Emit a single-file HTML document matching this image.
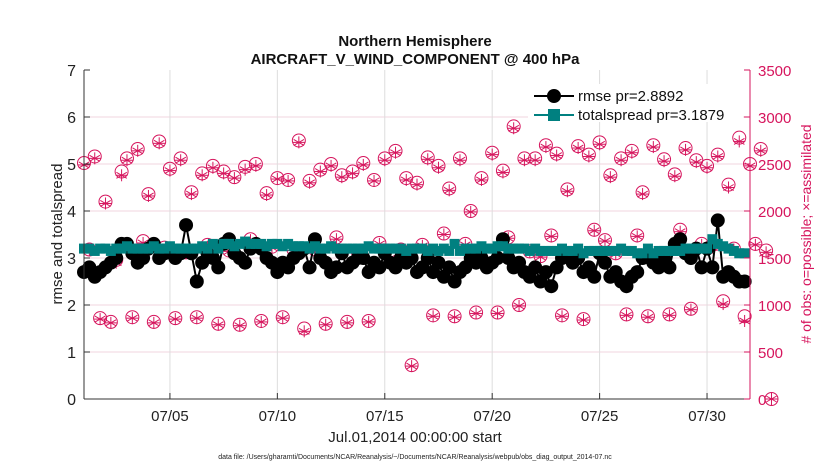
<!DOCTYPE html>
<html><head><meta charset="utf-8"><style>
body{margin:0;background:#fff;}
svg{display:block;font-family:"Liberation Sans",sans-serif;}
</style></head><body>
<svg id="chart" width="830" height="470" xmlns="http://www.w3.org/2000/svg">
<rect width="830" height="470" fill="#fff"/>
<g id="grid"></g>
<g id="obs"></g>
<g id="series"></g>
<g id="axes"></g>
<text x="415" y="46" text-anchor="middle" font-size="15" font-weight="bold" fill="#111">Northern Hemisphere</text>
<text x="415" y="64" text-anchor="middle" font-size="15" font-weight="bold" fill="#111">AIRCRAFT_V_WIND_COMPONENT @ 400 hPa</text>
<text x="415" y="442" text-anchor="middle" font-size="15" fill="#222">Jul.01,2014 00:00:00 start</text>
<text x="415" y="459" text-anchor="middle" font-size="7" fill="#222">data file: /Users/gharamti/Documents/NCAR/Reanalysis/~/Documents/NCAR/Reanalysis/webpub/obs_diag_output_2014-07.nc</text>
<text transform="translate(62,234) rotate(-90)" text-anchor="middle" font-size="15" fill="#222">rmse and totalspread</text>
<text transform="translate(811,234) rotate(-90)" text-anchor="middle" font-size="14" fill="#d6155d"># of obs: o=possible; ×=assimilated</text>
<g id="legend">
<rect x="528" y="84" width="215" height="38" fill="#fff"/>
<line x1="534" y1="96" x2="574" y2="96" stroke="#000" stroke-width="2"/>
<circle cx="554" cy="96" r="7" fill="#000"/>
<text x="578" y="101" font-size="15" fill="#111">rmse pr=2.8892</text>
<line x1="534" y1="115" x2="574" y2="115" stroke="#008080" stroke-width="2"/>
<rect x="548" y="109" width="12" height="12" fill="#008080"/>
<text x="578" y="120" font-size="15" fill="#111">totalspread pr=3.1879</text>
</g>
</svg>
<script>
const leftTicks=[0,1,2,3,4,5,6,7];
const rightTicks=[0,500,1000,1500,2000,2500,3000,3500];
const xTickDays=[5,10,15,20,25,30];
const xTickLabels=["07/05","07/10","07/15","07/20","07/25","07/30"];
const rmse=[2.7,2.8,2.6,2.7,2.8,2.9,3.0,3.3,3.3,3.1,2.9,3.0,3.2,3.3,3.0,3.1,3.2,3.0,3.1,3.7,3.1,2.5,2.9,3.1,3.0,2.8,3.3,3.4,3.1,3.0,2.9,3.2,3.3,3.2,3.0,2.9,2.7,2.9,2.8,3.0,3.1,3.2,2.8,3.4,3.0,2.9,2.7,2.8,3.1,2.8,2.9,3.0,3.0,2.7,2.9,2.8,3.1,2.9,2.8,3.0,2.9,3.0,2.7,2.8,3.0,2.7,2.9,2.6,2.8,2.5,2.7,2.8,3.0,2.9,3.0,2.8,2.9,3.0,3.4,3.0,2.8,2.9,2.7,2.6,2.8,2.5,2.7,2.4,2.8,3.0,3.1,2.9,3.0,2.7,2.8,2.6,3.1,2.9,2.6,2.7,2.5,2.4,2.6,2.7,3.0,3.1,2.9,2.8,3.0,2.8,3.3,3.4,3.1,3.0,3.2,2.8,3.2,2.8,3.8,2.6,2.7,2.6,2.5,2.5];
const spread=[3.2,3.2,3.15,3.2,3.2,3.15,3.2,3.2,3.25,3.2,3.2,3.2,3.2,3.25,3.2,3.2,3.25,3.2,3.2,3.2,3.2,3.2,3.25,3.2,3.3,3.2,3.3,3.3,3.25,3.3,3.35,3.3,3.3,3.3,3.25,3.3,3.3,3.25,3.3,3.25,3.25,3.25,3.2,3.25,3.2,3.2,3.25,3.2,3.2,3.2,3.2,3.2,3.2,3.25,3.2,3.2,3.2,3.2,3.2,3.2,3.15,3.2,3.2,3.2,3.15,3.2,3.15,3.2,3.15,3.3,3.15,3.2,3.2,3.2,3.25,3.2,3.2,3.25,3.25,3.2,3.2,3.2,3.2,3.15,3.2,3.15,3.15,3.15,3.15,3.2,3.15,3.15,3.2,3.1,3.15,3.15,3.15,3.15,3.15,3.15,3.2,3.15,3.15,3.1,3.1,3.2,3.1,3.15,3.15,3.15,3.15,3.15,3.2,3.2,3.2,3.2,3.2,3.4,3.3,3.25,3.2,3.15,3.1,3.1];
const possible=[2510,1590,2580,860,2100,820,1480,2420,2560,870,2660,1680,2180,820,2740,1610,2450,860,2560,1560,2200,870,2400,1640,2480,800,2420,1580,2360,790,2470,1700,2500,830,2190,1620,2350,870,2330,1590,2750,750,2320,1590,2440,800,2500,1720,2380,820,2420,1560,2510,830,2330,1660,2560,1510,2640,1590,2350,360,2300,1640,2570,890,2480,1760,2240,880,2560,1650,2000,920,2350,1440,2620,920,2430,1720,2900,1000,2560,1570,2560,1520,2700,1740,2610,890,2230,1480,2690,850,2600,1800,2730,1690,2380,1550,2560,900,2640,1740,2200,880,2700,1550,2550,900,2390,1800,2670,960,2540,1650,2480,1640,2600,1040,2280,1600,2780,880,2500,1650,2660,1580,0];
const assimilated=[2490,1580,2560,850,2080,810,1450,2380,2540,860,2640,1660,2160,810,2720,1590,2430,850,2540,1550,2180,860,2380,1620,2460,790,2400,1570,2350,780,2440,1690,2480,820,2170,1610,2340,860,2320,1580,2730,720,2300,1580,2420,790,2480,1700,2360,810,2400,1550,2490,820,2320,1650,2540,1500,2620,1580,2330,350,2280,1630,2550,880,2460,1750,2220,870,2540,1640,1990,910,2330,1420,2600,910,2410,1710,2880,990,2540,1560,2540,1510,2680,1730,2590,880,2210,1470,2670,840,2580,1790,2710,1680,2360,1540,2540,890,2620,1730,2180,870,2680,1540,2530,890,2370,1780,2650,950,2520,1640,2460,1610,2580,1010,2250,1590,2740,830,2480,1640,2640,1560,0];
const x0=84,x1=750,yTop=70,yBot=399,dStart=1,dEnd=32,stepDays=0.25;
const NS="http://www.w3.org/2000/svg";
const xs=d=>x0+(d-dStart)/(dEnd-dStart)*(x1-x0);
const yl=v=>yBot-v/7*(yBot-yTop);
const yr=v=>yBot-v/3500*(yBot-yTop);
const dayOf=i=>dStart+i*stepDays;
function mk(tag,attrs,parent){const e=document.createElementNS(NS,tag);for(const k in attrs)e.setAttribute(k,attrs[k]);parent.appendChild(e);return e;}
const grid=document.getElementById('grid'),axes=document.getElementById('axes'),obs=document.getElementById('obs'),series=document.getElementById('series');
rightTicks.forEach((t,i)=>{if(t>0&&t<3500){const l=mk('line',{x1:x0,x2:x1,y1:yr(t),y2:yr(t),stroke:'#f2d4df','stroke-width':1},grid);

}});
xTickDays.forEach((d,i)=>{const l=mk('line',{x1:xs(d),x2:xs(d),y1:yTop,y2:yBot,stroke:'#ddd','stroke-width':1},grid);


const t=mk('line',{x1:xs(d),x2:xs(d),y1:yBot,y2:yBot-6,stroke:'#333'},axes);


const tx=mk('text',{x:xs(d),y:yBot+22,'text-anchor':'middle','font-size':15,fill:'#222'},axes);tx.textContent=xTickLabels[i];

});
possible.forEach((v,i)=>{const cx=xs(dayOf(i)),cy=yr(v);
const c=mk('circle',{cx:cx,cy:cy,r:6.5,fill:'none',stroke:'#d6155d','stroke-width':1},obs);

});
assimilated.forEach((v,i)=>{const cx=xs(dayOf(i)),cy=yr(v);
const g=mk('g',{stroke:'#d6155d','stroke-width':1},obs);


[0,60,120].forEach(a=>{const r=a*Math.PI/180+Math.PI/2;mk('line',{x1:cx-6*Math.cos(r),y1:cy-6*Math.sin(r),x2:cx+6*Math.cos(r),y2:cy+6*Math.sin(r)},g);});
mk('line',{x1:cx-6,y1:cy,x2:cx+6,y2:cy},g);});
const rp=rmse.map((v,i)=>xs(dayOf(i))+','+yl(v)).join(' ');
const rl=mk('polyline',{points:rp,fill:'none',stroke:'#000','stroke-width':2},series);


rmse.forEach((v,i)=>{const c=mk('circle',{cx:xs(dayOf(i)),cy:yl(v),r:7,fill:'#000'},series);

});
const sp=spread.map((v,i)=>xs(dayOf(i))+','+yl(v)).join(' ');
const sl=mk('polyline',{points:sp,fill:'none',stroke:'#008080','stroke-width':2},series);


spread.forEach((v,i)=>{const r=mk('rect',{x:xs(dayOf(i))-5,y:yl(v)-5,width:10,height:10,fill:'#008080'},series);

});
const la=mk('line',{x1:x0,x2:x0,y1:yTop,y2:yBot,stroke:'#333','stroke-width':1},axes);


const ba=mk('line',{x1:x0,x2:x1,y1:yBot,y2:yBot,stroke:'#333','stroke-width':1},axes);


const ra=mk('line',{x1:x1,x2:x1,y1:yTop,y2:yBot,stroke:'#d6155d','stroke-width':1},axes);


leftTicks.forEach(t=>{const l=mk('line',{x1:x0,x2:x0+6,y1:yl(t),y2:yl(t),stroke:'#333'},axes);


const tx=mk('text',{x:x0-8,y:yl(t)+6,'text-anchor':'end','font-size':16,fill:'#222'},axes);tx.textContent=t;

});
rightTicks.forEach(t=>{const l=mk('line',{x1:x1,x2:x1-6,y1:yr(t),y2:yr(t),stroke:'#d6155d'},axes);


const tx=mk('text',{x:x1+8,y:yr(t)+6,'text-anchor':'start','font-size':15,fill:'#d6155d'},axes);tx.textContent=t;

});
</script>
</body></html>
